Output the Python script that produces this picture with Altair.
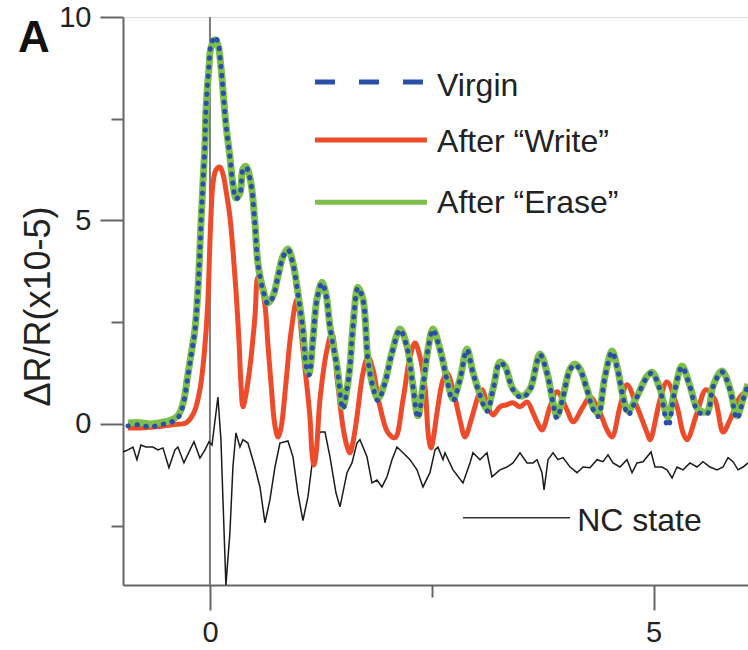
import altair as alt
import pandas as pd

# ---------------- data ----------------
# Virgin and After "Erase" (sampled at the same delays)
ve_t = [-0.924, -0.789, -0.676, -0.564, -0.451, -0.361, -0.304, -0.248, -0.203, -0.169,
        -0.135, -0.101, -0.079, -0.056, -0.045, -0.011, 0.011, 0.056, 0.090, 0.124,
        0.147, 0.180, 0.225, 0.259, 0.293, 0.338, 0.372, 0.406, 0.462, 0.507,
        0.541, 0.598, 0.654, 0.710, 0.767, 0.823, 0.879, 0.936, 0.992, 1.048,
        1.082, 1.116, 1.161, 1.206, 1.263, 1.308, 1.353, 1.432, 1.499, 1.545,
        1.578, 1.612, 1.669, 1.725, 1.781, 1.838, 1.894, 1.973, 2.052, 2.142,
        2.221, 2.289, 2.345, 2.401, 2.458, 2.514, 2.593, 2.672, 2.740, 2.818,
        2.897, 2.965, 3.044, 3.123, 3.191, 3.269, 3.326, 3.416, 3.517, 3.608,
        3.720, 3.799, 3.867, 3.912, 3.980, 4.059, 4.115, 4.171, 4.250, 4.318,
        4.374, 4.453, 4.532, 4.588, 4.656, 4.713, 4.814, 4.927, 4.983, 5.073,
        5.163, 5.242, 5.321, 5.411, 5.502, 5.603, 5.671, 5.772, 5.862, 5.941,
        6.009, 6.065]
virgin_v = [-0.05, -0.02, -0.08, -0.02, 0.03, 0.15, 0.45, 1.18, 1.80, 2.30,
            3.27, 4.90, 5.90, 6.88, 7.72, 8.80, 9.30, 9.52, 9.38, 8.77,
            8.21, 7.37, 6.56, 5.90, 5.53, 5.65, 6.24, 6.31, 5.90, 4.91,
            3.93, 3.29, 2.95, 3.12, 3.61, 4.10, 4.28, 3.93, 3.19, 2.31,
            1.45, 1.20, 2.06, 3.05, 3.46, 3.17, 2.38, 1.40, 0.36, 0.84,
            1.40, 2.38, 3.34, 3.05, 1.57, 0.91, 0.57, 1.01, 1.74, 2.31,
            1.89, 0.91, 0.14, 0.91, 1.82, 2.31, 1.82, 1.08, 0.57, 1.08,
            1.82, 1.25, 0.71, 0.31, 0.84, 1.50, 1.40, 0.84, 0.64, 0.84,
            1.70, 1.25, 0.52, 0.14, 0.66, 1.33, 1.45, 1.33, 0.84, 0.36,
            0.18, 1.15, 1.77, 1.40, 0.66, 0.22, 0.66, 1.15, 1.25, 0.84,
            -0.07, 0.84, 1.40, 0.91, 0.30, 0.24, 0.91, 1.28, 0.84, 0.12,
            0.59, 0.96]
erase_v = [0.02, 0.03, 0.00, 0.03, 0.08, 0.20, 0.50, 1.22, 1.84, 2.33,
           3.31, 4.92, 5.91, 6.88, 7.70, 8.75, 9.24, 9.44, 9.32, 8.77,
           8.21, 7.37, 6.56, 5.90, 5.55, 5.67, 6.26, 6.33, 5.92, 4.93,
           3.95, 3.31, 2.97, 3.14, 3.63, 4.12, 4.30, 3.95, 3.21, 2.33,
           1.47, 1.24, 2.08, 3.07, 3.48, 3.19, 2.40, 1.42, 0.42, 0.86,
           1.42, 2.40, 3.36, 3.07, 1.59, 0.93, 0.62, 1.03, 1.76, 2.33,
           1.91, 0.93, 0.20, 0.93, 1.84, 2.33, 1.84, 1.10, 0.62, 1.10,
           1.84, 1.27, 0.73, 0.37, 0.86, 1.52, 1.42, 0.86, 0.68, 0.86,
           1.72, 1.27, 0.54, 0.20, 0.68, 1.35, 1.47, 1.35, 0.86, 0.42,
           0.26, 1.17, 1.79, 1.42, 0.68, 0.32, 0.68, 1.17, 1.27, 0.86,
           0.17, 0.86, 1.42, 0.93, 0.36, 0.30, 0.93, 1.30, 0.86, 0.20,
           0.61, 0.98]

# After "Write"
write_t = [-0.924, -0.789, -0.609, -0.417, -0.271, -0.214, -0.169, -0.113, -0.079, -0.045,
           -0.023, 0.011, 0.034, 0.068, 0.113, 0.147, 0.180, 0.225, 0.259, 0.293,
           0.327, 0.349, 0.372, 0.395, 0.451, 0.507, 0.541, 0.575, 0.620, 0.654,
           0.688, 0.733, 0.767, 0.801, 0.857, 0.913, 0.981, 1.048, 1.127, 1.150,
           1.172, 1.200, 1.240, 1.319, 1.375, 1.432, 1.499, 1.545, 1.578, 1.612,
           1.657, 1.725, 1.781, 1.838, 1.917, 2.007, 2.086, 2.176, 2.255, 2.311,
           2.367, 2.424, 2.463, 2.492, 2.522, 2.559, 2.627, 2.672, 2.740, 2.818,
           2.875, 2.954, 3.021, 3.067, 3.134, 3.191, 3.269, 3.348, 3.416, 3.495,
           3.574, 3.642, 3.687, 3.743, 3.833, 3.912, 4.025, 4.092, 4.205, 4.284,
           4.397, 4.476, 4.532, 4.622, 4.701, 4.814, 4.927, 4.961, 5.073, 5.152,
           5.265, 5.333, 5.378, 5.490, 5.592, 5.693, 5.784, 5.862, 5.975, 6.065]
write_v = [-0.10, -0.10, -0.07, -0.02, 0.02, 0.15, 0.34, 0.84, 1.40, 2.24,
           3.05, 5.09, 5.90, 6.24, 6.31, 6.14, 5.75, 5.09, 4.28, 3.29,
           2.06, 1.00, 0.42, 0.60, 1.40, 2.63, 3.61, 3.44, 2.92, 1.94,
           1.01, -0.05, -0.32, -0.10, 1.01, 2.24, 3.05, 1.82, 0.17, -0.70,
           -1.01, -0.65, 0.59, 1.82, 2.24, 1.15, -0.07, -0.55, -0.71, -0.45,
           0.17, 1.25, 1.65, 1.33, 0.42, -0.22, -0.34, 0.59, 1.65, 1.99,
           1.65, 0.91, -0.30, -0.59, -0.30, 0.27, 1.08, 1.25, 0.84, 0.10,
           -0.32, 0.17, 0.66, 0.84, 0.42, 0.22, 0.42, 0.47, 0.52, 0.42,
           0.54, 0.27, 0.05, -0.15, 0.42, 0.79, 0.34, 0.05, 0.42, 0.66,
           0.27, -0.15, -0.32, 0.42, 0.96, 0.42, -0.22, -0.39, 0.59, 1.03,
           0.42, -0.22, -0.39, 0.27, 0.84, 0.59, -0.20, 0.10, 0.66, 0.84]

# NC state
nc_t = [-0.981, -0.924, -0.868, -0.823, -0.778, -0.722, -0.643, -0.586, -0.530, -0.462,
        -0.395, -0.361, -0.293, -0.225, -0.180, -0.113, -0.056, -0.011, 0.023, 0.090,
        0.124, 0.147, 0.180, 0.225, 0.259, 0.293, 0.338, 0.372, 0.428, 0.507,
        0.564, 0.620, 0.676, 0.733, 0.789, 0.879, 0.936, 0.992, 1.048, 1.105,
        1.161, 1.240, 1.297, 1.353, 1.421, 1.466, 1.545, 1.601, 1.657, 1.691,
        1.770, 1.826, 1.883, 1.939, 1.996, 2.052, 2.108, 2.176, 2.255, 2.334,
        2.401, 2.480, 2.537, 2.570, 2.627, 2.649, 2.740, 2.852, 2.931, 2.965,
        3.044, 3.123, 3.179, 3.269, 3.348, 3.416, 3.495, 3.574, 3.642, 3.687,
        3.743, 3.766, 3.811, 3.867, 3.923, 3.980, 4.059, 4.138, 4.205, 4.284,
        4.363, 4.431, 4.487, 4.543, 4.622, 4.701, 4.758, 4.814, 4.882, 4.972,
        5.017, 5.096, 5.152, 5.209, 5.265, 5.333, 5.411, 5.490, 5.558, 5.637,
        5.716, 5.784, 5.840, 5.896, 5.953, 6.009, 6.065]
nc_v = [-0.69, -0.64, -0.57, -0.88, -0.52, -0.57, -0.57, -0.64, -0.59, -1.08,
        -0.64, -0.57, -0.96, -0.64, -0.44, -0.84, -0.64, -0.44, -0.52, 0.66,
        -0.39, -1.87, -3.96, -2.68, -1.06, -0.22, -0.57, -0.39, -0.47, -1.06,
        -1.55, -2.43, -1.87, -1.06, -0.47, -0.42, -0.81, -1.70, -2.38, -1.79,
        -0.81, -0.20, -0.20, -0.81, -1.70, -2.04, -1.20, -0.96, -0.47, -0.39,
        -0.81, -1.45, -1.38, -1.55, -1.30, -0.88, -0.57, -0.71, -0.88, -1.13,
        -1.55, -1.20, -0.64, -0.57, -0.88, -0.71, -1.13, -1.45, -0.96, -0.71,
        -0.88, -0.71, -1.30, -1.13, -1.06, -0.96, -0.71, -0.96, -0.96, -0.88,
        -1.20, -1.62, -0.88, -0.71, -0.88, -0.83, -1.06, -1.20, -1.06, -1.08,
        -0.88, -0.93, -0.76, -0.96, -1.06, -0.88, -1.20, -0.96, -0.93, -0.69,
        -1.06, -1.06, -1.13, -1.33, -1.06, -1.13, -0.96, -1.06, -0.93, -1.06,
        -1.13, -1.06, -0.83, -0.93, -1.13, -1.06, -0.96]

# legend entries (in data units)
legend_names = ["Virgin", "After \u201cWrite\u201d", "After \u201cErase\u201d"]
legend_line_t = [1.184, 2.446]
legend_line_v = [8.40, 6.98, 5.45]
legend_text_t = 2.56
legend_text_v = [8.30, 6.93, 5.43]
nc_label = "NC state"
nc_line_t = [2.852, 4.059]
nc_line_v = -2.31
nc_text_t = 4.14
nc_text_v = -2.38

x_domain = [-0.98, 6.065]
y_domain = [-3.96, 10]

BLUE = "#2a4fa8"
RED = "#ee4b2b"
GREEN = "#7dbf4b"
AXIS = "#666666"
TEXT = "#222222"
FONT = "Liberation Sans"

# ---------------- chart ----------------
major5 = "abs(datum.value % 5) < 0.001"
xs = alt.Scale(domain=x_domain, nice=False, zero=False)
ys = alt.Scale(domain=y_domain, nice=False, zero=False)

x_axis = alt.Axis(values=[0, 2.5, 5], title=None, grid=False,
                  labelExpr=f"{major5} ? datum.label : ''",
                  tickSize={"condition": {"test": major5, "value": 25}, "value": 12},
                  tickColor=AXIS, tickWidth=2, domainColor=AXIS, domainWidth=2,
                  labelFont=FONT, labelFontSize=29, labelColor=TEXT, labelPadding=8)
y_axis = alt.Axis(values=[-2.5, 0, 2.5, 5, 7.5, 10], grid=False,
                  labelExpr=f"{major5} ? datum.label : ''",
                  tickSize={"condition": {"test": major5, "value": 23}, "value": 12},
                  tickColor=AXIS, tickWidth=2, domainColor=AXIS, domainWidth=2,
                  labelFont=FONT, labelFontSize=29, labelColor=TEXT, labelPadding=9,
                  title="\u0394R/R(x10-5)", titleFont=FONT, titleFontSize=36,
                  titleFontWeight="normal", titleColor=TEXT, titleAngle=270,
                  titleX=-85, titleY=289, titleAlign="center", titleBaseline="middle")


def X(field="t"):
    return alt.X(f"{field}:Q", scale=xs, axis=x_axis)


def Y(field="v"):
    return alt.Y(f"{field}:Q", scale=ys, axis=y_axis)


virgin_df = pd.DataFrame({"t": ve_t, "v": virgin_v})
erase_df = pd.DataFrame({"t": ve_t, "v": erase_v})
write_df = pd.DataFrame({"t": write_t, "v": write_v})
nc_df = pd.DataFrame({"t": nc_t, "v": nc_v})

zero_rule = alt.Chart(pd.DataFrame({"t": [0]})).mark_rule(
    color="#7a7a7a", strokeWidth=2
).encode(x=X(), y=alt.value(0), y2=alt.value(568))

nc_line = alt.Chart(nc_df).mark_line(color="#1a1a1a", strokeWidth=1.5, clip=True).encode(
    x=X(), y=Y())
write_line = alt.Chart(write_df).mark_line(color=RED, strokeWidth=5, interpolate="catmull-rom",
                                           clip=True).encode(x=X(), y=Y())
erase_line = alt.Chart(erase_df).mark_line(color=GREEN, strokeWidth=7, interpolate="catmull-rom",
                                           clip=True).encode(x=X(), y=Y())
virgin_line = alt.Chart(virgin_df).mark_line(color=BLUE, strokeWidth=5, interpolate="catmull-rom",
                                             strokeDash=[0.5, 8.5], strokeCap="round",
                                             clip=True).encode(x=X(), y=Y())

leg_colors = [BLUE, RED, GREEN]
leg_dash = [[20, 24], [1, 0], [1, 0]]
leg_layers = []
for name, lv, tv, col, dash in zip(legend_names, legend_line_v, legend_text_v, leg_colors, leg_dash):
    d = pd.DataFrame({"t": [legend_line_t[0]], "t2": [legend_line_t[1]], "v": [lv]})
    leg_layers.append(
        alt.Chart(d).mark_rule(color=col, strokeWidth=5, strokeDash=dash).encode(
            x=X(), x2="t2:Q", y=Y()))
    dt = pd.DataFrame({"t": [legend_text_t], "v": [tv], "label": [name]})
    leg_layers.append(
        alt.Chart(dt).mark_text(align="left", baseline="middle", font=FONT, fontSize=32,
                                color=TEXT).encode(x=X(), y=Y(), text="label:N"))

ncl = pd.DataFrame({"t": [nc_line_t[0]], "t2": [nc_line_t[1]], "v": [nc_line_v]})
leg_layers.append(alt.Chart(ncl).mark_rule(color="#333333", strokeWidth=1.5).encode(
    x=X(), x2="t2:Q", y=Y()))
nct = pd.DataFrame({"t": [nc_text_t], "v": [nc_text_v], "label": [nc_label]})
leg_layers.append(alt.Chart(nct).mark_text(align="left", baseline="middle", font=FONT,
                                           fontSize=32, color=TEXT).encode(
    x=X(), y=Y(), text="label:N"))

panel = alt.Chart(pd.DataFrame({"label": ["A"]})).mark_text(
    font=FONT, fontSize=44, fontWeight="bold", color="#111111", align="center",
    baseline="middle"
).encode(x=alt.value(-89), y=alt.value(22), text="label:N")

chart = alt.layer(
    zero_rule, nc_line, write_line, erase_line, virgin_line, *leg_layers, panel
).properties(
    width=625, height=568,
    padding={"left": 123, "top": 17, "right": 0, "bottom": 65},
    autosize=alt.AutoSizeParams(type="none"),
).configure_view(stroke=None).configure(background="white")

chart.save("out.html", embed_options={"renderer": "svg", "actions": False})
